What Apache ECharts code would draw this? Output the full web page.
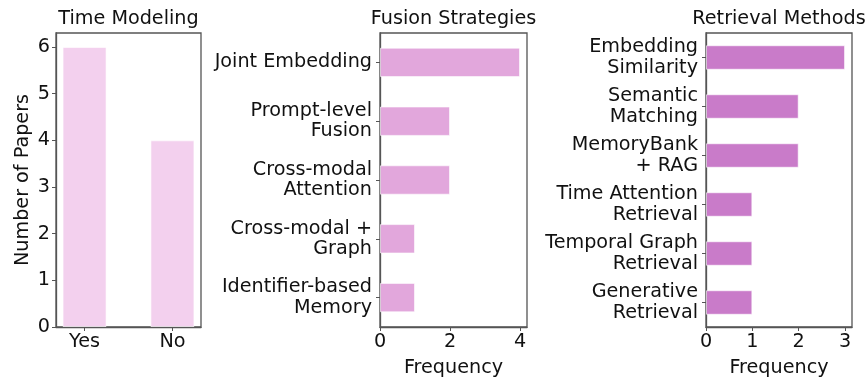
<!DOCTYPE html>
<html>
<head>
<meta charset="utf-8">
<script src="https://cdn.jsdelivr.net/npm/echarts@6/dist/echarts.min.js"></script>
<style>
  html, body { margin: 0; padding: 0; background: #fff; }
  #chart { width: 865px; height: 388px; }
</style>
</head>
<body>
<div id="chart"></div>
<script>
// data
var timeCats = ['Yes', 'No'];
var timeVals = [6, 4];

var fusionCats = ['Joint Embedding', 'Prompt-level\nFusion', 'Cross-modal\nAttention', 'Cross-modal +\nGraph', 'Identifier-based\nMemory'];
var fusionVals = [4, 2, 2, 1, 1];

var retrCats = ['Embedding\nSimilarity', 'Semantic\nMatching', 'MemoryBank\n+ RAG', 'Time Attention\nRetrieval', 'Temporal Graph\nRetrieval', 'Generative\nRetrieval'];
var retrVals = [3, 2, 2, 1, 1, 1];

var timeTicks = [0, 1, 2, 3, 4, 5, 6];
var fusionTicks = [0, 2, 4];
var retrTicks = [0, 1, 2, 3];

var FONT = 'DejaVu Sans';
var FS = 19.2;
var AX = '#555';

var lbl = { color: '#111', fontFamily: FONT, fontSize: FS };
var nameStyle = { fontFamily: FONT, fontSize: FS, color: '#111' };

function boxGrid(left, w) {
    return {
        left: left, top: 33, width: w, height: 294,
        show: true, borderColor: AX, borderWidth: 1.3, backgroundColor: 'transparent'
    };
}

function axLine() {
    return { show: true, onZero: false, lineStyle: { color: AX, width: 1.3 } };
}

var chart = echarts.init(document.getElementById('chart'));
var option = {
    animation: false,
    backgroundColor: '#fff',
    title: [
        { text: 'Time Modeling', left: 128.5, top: 10, textAlign: 'center', padding: 0,
          textStyle: { fontFamily: FONT, fontSize: FS, fontWeight: 'normal', color: '#111' } },
        { text: 'Fusion Strategies', left: 453.5, top: 10, textAlign: 'center', padding: 0,
          textStyle: { fontFamily: FONT, fontSize: FS, fontWeight: 'normal', color: '#111' } },
        { text: 'Retrieval Methods', left: 779, top: 10, textAlign: 'center', padding: 0,
          textStyle: { fontFamily: FONT, fontSize: FS, fontWeight: 'normal', color: '#111' } }
    ],
    grid: [boxGrid(56, 145), boxGrid(380, 147), boxGrid(706, 146)],
    xAxis: [
        {
            gridIndex: 0, type: 'value', min: -0.325, max: 1.325,
            splitLine: { show: false },
            axisLine: axLine(),
            axisTick: { show: true, length: 4, lineStyle: { color: AX }, customValues: [0, 1] },
            axisLabel: Object.assign({ margin: 6, customValues: [0, 1],
                formatter: function (v) { return timeCats[Math.round(v)]; } }, lbl)
        },
        {
            gridIndex: 1, type: 'value', min: 0, max: 4.2,
            splitLine: { show: false },
            axisLine: axLine(),
            axisTick: { show: true, length: 4, lineStyle: { color: AX }, customValues: fusionTicks },
            axisLabel: Object.assign({ margin: 6, customValues: fusionTicks }, lbl),
            name: 'Frequency', nameLocation: 'middle', nameGap: 32,
            nameTextStyle: nameStyle
        },
        {
            gridIndex: 2, type: 'value', min: 0, max: 3.15,
            splitLine: { show: false },
            axisLine: axLine(),
            axisTick: { show: true, length: 4, lineStyle: { color: AX }, customValues: retrTicks },
            axisLabel: Object.assign({ margin: 6, customValues: retrTicks }, lbl),
            name: 'Frequency', nameLocation: 'middle', nameGap: 32,
            nameTextStyle: nameStyle
        }
    ],
    yAxis: [
        {
            gridIndex: 0, type: 'value', min: 0, max: 6.3,
            splitLine: { show: false },
            axisLine: axLine(),
            axisTick: { show: true, length: 4, lineStyle: { color: AX }, customValues: timeTicks },
            axisLabel: Object.assign({ margin: 6, customValues: timeTicks }, lbl),
            name: 'Number of Papers', nameLocation: 'middle', nameGap: 23, nameRotate: 90,
            nameTextStyle: nameStyle
        },
        {
            gridIndex: 1, type: 'category', data: fusionCats, inverse: true,
            axisLine: axLine(),
            axisTick: { show: true, length: 4, alignWithLabel: true, lineStyle: { color: AX } },
            axisLabel: Object.assign({ margin: 8, lineHeight: 20.5, align: 'right', interval: 0,
                padding: [6, 0, 0, 0] }, lbl)
        },
        {
            gridIndex: 2, type: 'category', data: retrCats, inverse: true,
            axisLine: axLine(),
            axisTick: { show: true, length: 4, alignWithLabel: true, lineStyle: { color: AX } },
            axisLabel: Object.assign({ margin: 8, lineHeight: 20.5, align: 'right', interval: 0,
                padding: [6, 0, 0, 0] }, lbl)
        }
    ],
    series: [
        {
            type: 'bar', xAxisIndex: 0, yAxisIndex: 0, barWidth: 44,
            data: timeVals.map(function (v, i) { return [i, v]; }),
            itemStyle: { color: '#F3D0EE', borderColor: 'rgba(255,255,255,0.6)', borderWidth: 1 }
        },
        {
            type: 'bar', xAxisIndex: 1, yAxisIndex: 1, barWidth: '50%',
            data: fusionVals,
            itemStyle: { color: '#E2A7DC', borderColor: 'rgba(255,255,255,0.6)', borderWidth: 1 }
        },
        {
            type: 'bar', xAxisIndex: 2, yAxisIndex: 2, barWidth: '50%',
            data: retrVals,
            itemStyle: { color: '#C97BC9', borderColor: 'rgba(255,255,255,0.6)', borderWidth: 1 }
        }
    ]
};
chart.setOption(option);
</script>
</body>
</html>
